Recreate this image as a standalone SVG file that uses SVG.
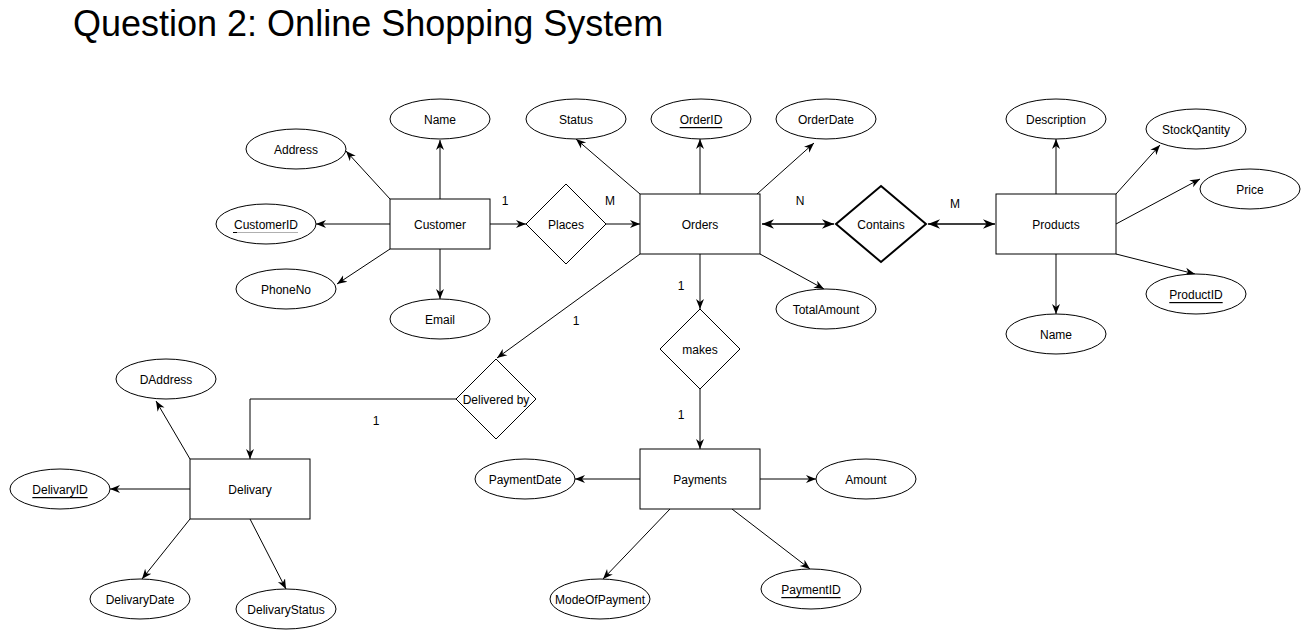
<svg xmlns="http://www.w3.org/2000/svg" width="1301" height="630" viewBox="0 0 1301 630">
<style>
.bg{fill:#ffffff}
.ent rect,.attr ellipse,.rel polygon{fill:#ffffff;stroke:#000000;stroke-width:1}
.rel.bold polygon{stroke-width:2}
text{font-family:"Liberation Sans",Arial,sans-serif;font-size:12px;fill:#000000}
.lbl{text-anchor:middle;dominant-baseline:central;transform:translateY(1px)}
.key{text-decoration:underline}
.title{font-size:36px}
#connectors line,#connectors polyline{stroke:#000000;stroke-width:1;fill:none;marker-end:url(#arr)}
#connectors .both{stroke-width:1.5;marker-start:url(#arr2);marker-end:url(#arr2)}
</style>
<defs>
<marker id="arr" markerUnits="userSpaceOnUse" markerWidth="10" markerHeight="10" viewBox="0 0 10 10" refX="10" refY="5" orient="auto-start-reverse">
<path d="M0,1 L10,5 L0,9 L3,5 z" fill="#000000"/>
</marker>
<marker id="arr2" markerUnits="userSpaceOnUse" markerWidth="12" markerHeight="12" viewBox="0 0 10 10" refX="10" refY="5" orient="auto-start-reverse">
<path d="M0,1 L10,5 L0,9 L3,5 z" fill="#000000"/>
</marker>
</defs>
<rect class="bg" x="0" y="0" width="1301" height="630"/>
<text class="title" x="73" y="36">Question 2: Online Shopping System</text>

<g id="connectors">
<line x1="440" y1="199" x2="440" y2="140"/>
<line x1="390" y1="199" x2="346" y2="151"/>
<line x1="390" y1="224" x2="316" y2="224"/>
<line x1="390" y1="249" x2="337" y2="284"/>
<line x1="440" y1="249" x2="440" y2="299"/>
<line x1="490" y1="224" x2="526" y2="224"/>
<line x1="606" y1="224" x2="640" y2="224"/>
<line x1="640" y1="194" x2="576" y2="139"/>
<line x1="700" y1="194" x2="700" y2="139"/>
<line x1="757" y1="194" x2="814" y2="143"/>
<line class="both" x1="762" y1="224" x2="834" y2="224"/>
<line class="both" x1="928" y1="224" x2="995" y2="224"/>
<line x1="760" y1="254" x2="824" y2="289"/>
<line x1="700" y1="254" x2="700" y2="309"/>
<line x1="700" y1="389" x2="700" y2="449"/>
<line x1="640" y1="254" x2="497" y2="358"/>
<polyline points="456,399 250,399 250,459"/>
<line x1="190" y1="459" x2="156" y2="401"/>
<line x1="190" y1="489" x2="110" y2="489"/>
<line x1="190" y1="519" x2="142" y2="579"/>
<line x1="250" y1="519" x2="286" y2="589"/>
<line x1="1056" y1="194" x2="1056" y2="139"/>
<line x1="1116" y1="194" x2="1160" y2="145"/>
<line x1="1116" y1="224" x2="1200" y2="179"/>
<line x1="1116" y1="254" x2="1195" y2="274"/>
<line x1="1056" y1="254" x2="1056" y2="314"/>
<line x1="640" y1="479" x2="575" y2="479"/>
<line x1="760" y1="479" x2="816" y2="479"/>
<line x1="670" y1="509" x2="603" y2="579"/>
<line x1="732" y1="509" x2="810" y2="569"/>
</g>

<g id="cardinalities">
<text class="lbl" x="505" y="200">1</text>
<text class="lbl" x="610" y="200">M</text>
<text class="lbl" x="800" y="200">N</text>
<text class="lbl" x="955" y="203">M</text>
<text class="lbl" x="681" y="285">1</text>
<text class="lbl" x="576" y="320">1</text>
<text class="lbl" x="376" y="420">1</text>
<text class="lbl" x="681" y="414">1</text>
</g>

<g id="customer" class="ent"><rect x="390" y="199" width="100" height="50"/><text class="lbl" x="440" y="224">Customer</text></g>
<g id="orders" class="ent"><rect x="640" y="194" width="120" height="60"/><text class="lbl" x="700" y="224">Orders</text></g>
<g id="products" class="ent"><rect x="996" y="194" width="120" height="60"/><text class="lbl" x="1056" y="224">Products</text></g>
<g id="payments" class="ent"><rect x="640" y="449" width="120" height="60"/><text class="lbl" x="700" y="479">Payments</text></g>
<g id="delivary" class="ent"><rect x="190" y="459" width="120" height="60"/><text class="lbl" x="250" y="489">Delivary</text></g>

<g id="places" class="rel"><polygon points="566,184 606,224 566,264 526,224"/><text class="lbl" x="566" y="224">Places</text></g>
<g id="contains" class="rel bold"><polygon points="881,186 926,224 881,262 836,224"/><text class="lbl" x="881" y="224">Contains</text></g>
<g id="makes" class="rel"><polygon points="700,309 740,349 700,389 660,349"/><text class="lbl" x="700" y="349">makes</text></g>
<g id="deliveredby" class="rel"><polygon points="496,359 536,399 496,439 456,399"/><text class="lbl" x="496" y="399">Delivered by</text></g>

<g id="attr-name" class="attr"><ellipse cx="440" cy="119" rx="50" ry="20"/><text class="lbl" x="440" y="119">Name</text></g>
<g id="attr-address" class="attr"><ellipse cx="296" cy="149" rx="50" ry="20"/><text class="lbl" x="296" y="149">Address</text></g>
<g id="attr-customerid" class="attr"><ellipse cx="266" cy="224" rx="50" ry="20"/><text class="lbl" x="266" y="224">CustomerID</text><line x1="234" y1="232.5" x2="298" y2="232.5" stroke="#b0b0b0" stroke-width="1"/><line x1="233" y1="232.5" x2="237" y2="232.5" stroke="#000000" stroke-width="1"/></g>
<g id="attr-phoneno" class="attr"><ellipse cx="286" cy="289" rx="50" ry="20"/><text class="lbl" x="286" y="289">PhoneNo</text></g>
<g id="attr-email" class="attr"><ellipse cx="440" cy="319" rx="50" ry="20"/><text class="lbl" x="440" y="319">Email</text></g>
<g id="attr-status" class="attr"><ellipse cx="576" cy="119" rx="50" ry="20"/><text class="lbl" x="576" y="119">Status</text></g>
<g id="attr-orderid" class="attr"><ellipse cx="701" cy="119" rx="50" ry="20"/><text class="lbl key" x="701" y="119">OrderID</text></g>
<g id="attr-orderdate" class="attr"><ellipse cx="826" cy="119" rx="50" ry="20"/><text class="lbl" x="826" y="119">OrderDate</text></g>
<g id="attr-totalamount" class="attr"><ellipse cx="826" cy="309" rx="50" ry="20"/><text class="lbl" x="826" y="309">TotalAmount</text></g>
<g id="attr-description" class="attr"><ellipse cx="1056" cy="119" rx="50" ry="20"/><text class="lbl" x="1056" y="119">Description</text></g>
<g id="attr-stockqantity" class="attr"><ellipse cx="1196" cy="129" rx="50" ry="20"/><text class="lbl" x="1196" y="129">StockQantity</text></g>
<g id="attr-price" class="attr"><ellipse cx="1250" cy="189" rx="50" ry="20"/><text class="lbl" x="1250" y="189">Price</text></g>
<g id="attr-productid" class="attr"><ellipse cx="1196" cy="294" rx="50" ry="20"/><text class="lbl key" x="1196" y="294">ProductID</text></g>
<g id="attr-pname" class="attr"><ellipse cx="1056" cy="334" rx="50" ry="20"/><text class="lbl" x="1056" y="334">Name</text></g>
<g id="attr-daddress" class="attr"><ellipse cx="166" cy="379" rx="50" ry="20"/><text class="lbl" x="166" y="379">DAddress</text></g>
<g id="attr-delivaryid" class="attr"><ellipse cx="60" cy="489" rx="50" ry="20"/><text class="lbl key" x="60" y="489">DelivaryID</text></g>
<g id="attr-delivarydate" class="attr"><ellipse cx="140" cy="599" rx="50" ry="20"/><text class="lbl" x="140" y="599">DelivaryDate</text></g>
<g id="attr-delivarystatus" class="attr"><ellipse cx="286" cy="609" rx="50" ry="20"/><text class="lbl" x="286" y="609">DelivaryStatus</text></g>
<g id="attr-paymentdate" class="attr"><ellipse cx="525" cy="479" rx="50" ry="20"/><text class="lbl" x="525" y="479">PaymentDate</text></g>
<g id="attr-amount" class="attr"><ellipse cx="866" cy="479" rx="50" ry="20"/><text class="lbl" x="866" y="479">Amount</text></g>
<g id="attr-modeofpayment" class="attr"><ellipse cx="600" cy="599" rx="50" ry="20"/><text class="lbl" x="600" y="599">ModeOfPayment</text></g>
<g id="attr-paymentid" class="attr"><ellipse cx="811" cy="589" rx="50" ry="20"/><text class="lbl key" x="811" y="589">PaymentID</text></g>
</svg>
